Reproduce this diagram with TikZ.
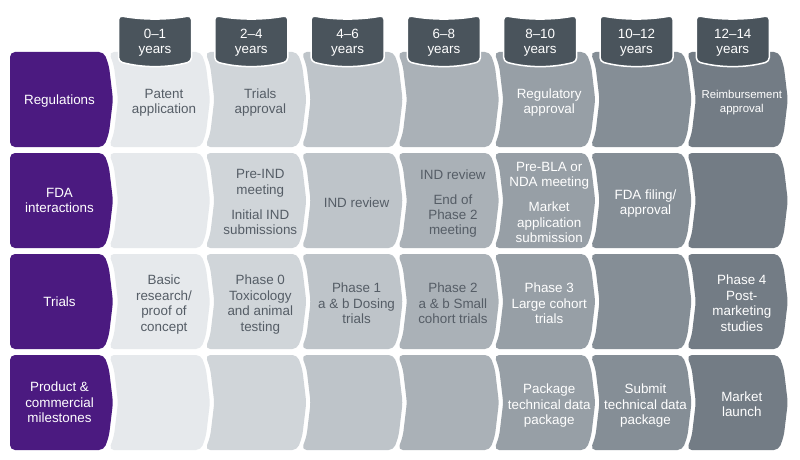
\documentclass[tikz,border=0pt]{standalone}
\usepackage{fontspec}
\setmainfont{Liberation Sans}
\definecolor{purp}{HTML}{4B1A80}
\definecolor{tabc}{HTML}{4A545C}
\definecolor{txtd}{HTML}{555D66}
\definecolor{col0}{HTML}{E6E9EC}
\definecolor{col1}{HTML}{D0D5D9}
\definecolor{col2}{HTML}{BEC4C9}
\definecolor{col3}{HTML}{AAB1B7}
\definecolor{col4}{HTML}{979FA6}
\definecolor{col5}{HTML}{858E96}
\definecolor{col6}{HTML}{737C85}
\tikzset{
  lbl/.style={align=center, font=\fontsize{13.4}{15.4}\selectfont, inner sep=0pt,
    execute at begin node=\strut, execute at end node=\strut},
  dk/.style={lbl, text=txtd},
  wt/.style={lbl, text=white},
  small/.style={font=\fontsize{11.4}{14}\selectfont},
  cellshape/.style={rounded corners=5pt},
  tabshape/.style={fill=tabc, draw=white, line width=1.5pt, rounded corners=4pt}
}
\begin{document}
\begin{tikzpicture}[x=1pt,y=-1pt]
\useasboundingbox (0,0) rectangle (800,460);
\fill[white] (0,0) rectangle (800,460);
% purple row headers
\foreach \j in {0,...,3}{
  \pgfmathsetmacro\T{52+101*\j}
  \pgfmathsetmacro\B{\T+95}
  \pgfmathsetmacro\M{\T+47.5}
  \fill[purp, cellshape] (10,\T) -- (104,\T) -- (109,\T+14) -- (113,\M) -- (109,\B-14) -- (104,\B) -- (10,\B) -- cycle;
  \coordinate (h\j) at (59.5,\M+2);
}
% grey chevron cells
\foreach \i in {0,...,6}{
  \foreach \j in {0,...,3}{
    \pgfmathsetmacro\L{109+96.3*\i}
    \pgfmathsetmacro\R{\L+92}
    \pgfmathsetmacro\T{52+101*\j}
    \pgfmathsetmacro\B{\T+95}
    \pgfmathsetmacro\M{\T+47.5}
    \fill[col\i, cellshape] (\L,\T) -- (\R,\T) -- (\R+5,\T+14) -- (\R+9,\M) -- (\R+5,\B-14) -- (\R,\B)
       -- (\L,\B) -- (\L+5,\B-14) -- (\L+9,\M) -- (\L+5,\T+14) -- cycle;
    \coordinate (p\j-\i) at (\L+55,\M+4);
  }
}
% year tabs
\foreach \i/\yr in {0/0–1,1/2–4,2/4–6,3/6–8,4/8–10,5/10–12,6/12–14}{
  \pgfmathsetmacro\C{155+96.3*\i}
  \filldraw[tabshape] (\C-36.5,15.5) .. controls (\C-12,20) and (\C+12,20) .. (\C+36.5,15.5)
     -- (\C+36.5,61.5) .. controls (\C+12,68) and (\C-12,68) .. (\C-36.5,61.5) -- cycle;
  \node[wt] (y\i) at (\C,43.5) {\yr\\years};
}
% row header labels
\node[wt] (hreg) at (h0) {Regulations};
\node[wt] (hfda) at (h1) {FDA\\interactions};
\node[wt] (htri) at (h2) {Trials};
\node[wt] (hpro) at (h3) {Product \&\\commercial\\milestones};
% regulations
\node[dk] (r00) at (p0-0) {Patent\\application};
\node[dk] (r01) at (p0-1) {Trials\\approval};
\node[wt] (r04) at (p0-4) {Regulatory\\approval};
\node[wt, small] (r06) at (p0-6) {Reimbursement\\approval};
% FDA interactions
\node[dk] (f1) at (p1-1) {Pre-IND\\meeting\\[9.7pt]Initial IND\\submissions};
\node[dk] (f2) at (p1-2) {IND review};
\node[dk] (f3) at (p1-3) {IND review\\[9.7pt]End of\\Phase 2\\meeting};
\node[wt] (f4) at (p1-4) {Pre-BLA or\\NDA meeting\\[9.7pt]Market\\application\\submission};
\node[wt] (f5) at (p1-5) {FDA filing/\\approval};
% trials
\node[dk] (t0) at (p2-0) {Basic\\research/\\proof of\\concept};
\node[dk] (t1) at (p2-1) {Phase 0\\Toxicology\\and animal\\testing};
\node[dk] (t2) at (p2-2) {Phase 1\\a \& b Dosing\\trials};
\node[dk] (t3) at (p2-3) {Phase 2\\a \& b Small\\cohort trials};
\node[wt] (t4) at (p2-4) {Phase 3\\Large cohort\\trials};
\node[wt] (t6) at (p2-6) {Phase 4\\Post-\\marketing\\studies};
% product & commercial
\node[wt] (m4) at (p3-4) {Package\\technical data\\package};
\node[wt] (m5) at (p3-5) {Submit\\technical data\\package};
\node[wt] (m6) at (p3-6) {Market\\launch};
\end{tikzpicture}
\end{document}
